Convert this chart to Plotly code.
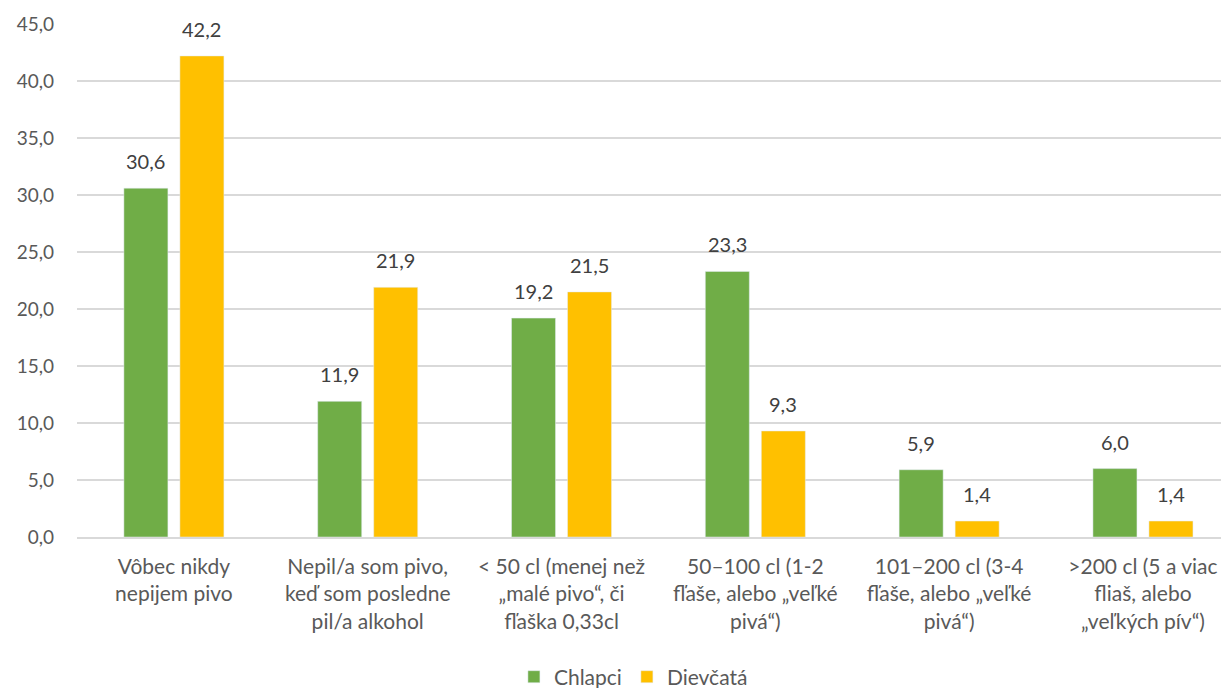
import plotly.graph_objects as go

categories = [
    "Vôbec nikdy<br>nepijem pivo",
    "Nepil/a som pivo,<br>keď som posledne<br>pil/a alkohol",
    "&lt; 50 cl (menej než<br>„malé pivo“, či<br>fľaška 0,33cl",
    "50–100 cl (1-2<br>fľaše, alebo „veľké<br>pivá“)",
    "101–200 cl (3-4<br>fľaše, alebo „veľké<br>pivá“)",
    "&gt;200 cl (5 a viac<br>fliaš, alebo<br>„veľkých pív“)",
]
chlapci = [30.6, 11.9, 19.2, 23.3, 5.9, 6.0]
dievcata = [42.2, 21.9, 21.5, 9.3, 1.4, 1.4]
y_ticks = [0, 5, 10, 15, 20, 25, 30, 35, 40, 45]

FONT = "Lato, Open Sans, sans-serif"
series = [("Chlapci", chlapci, "#70AD47", -28), ("Dievčatá", dievcata, "#FFC000", 28)]

fig = go.Figure()
for name, vals, color, _ in series:
    fig.add_trace(go.Bar(name=name, x=categories, y=vals, marker_color=color))

for name, vals, color, shift in series:
    for cat, v in zip(categories, vals):
        fig.add_annotation(
            x=cat, y=v, xref="x", yref="y", text=f"{v:.1f}".replace(".", ","),
            showarrow=False, yanchor="bottom", xshift=shift, yshift=13,
            font=dict(size=20, color="#404040", family=FONT),
        )

fig.update_layout(
    width=1221, height=680,
    margin=dict(l=69, r=0, t=16, b=151, autoexpand=False),
    paper_bgcolor="white", plot_bgcolor="white",
    separators=", ",
    barmode="group", bargap=0.422, bargroupgap=0.214,
    font=dict(family=FONT, size=19, color="#595959"),
    hovermode=False,
    legend=dict(orientation="h", x=0.483, xanchor="center", y=-0.273, yanchor="middle",
                font=dict(size=21, color="#595959"), itemwidth=30, traceorder="normal"),
    xaxis=dict(range=[-0.5, 5.444], showgrid=False, showline=True, linecolor="#D9D9D9",
               linewidth=1.5, tickfont=dict(size=21, color="#595959"), ticklabelstandoff=10,
               zeroline=False, automargin=False),
    yaxis=dict(range=[0, 45], tickvals=y_ticks, tickformat=".1f", showgrid=True,
               gridcolor="#D9D9D9", gridwidth=1.5, zeroline=False, showline=False,
               tickfont=dict(size=19, color="#595959"), ticklabelstandoff=22,
               automargin=False),
)

fig.write_html("out.html")
